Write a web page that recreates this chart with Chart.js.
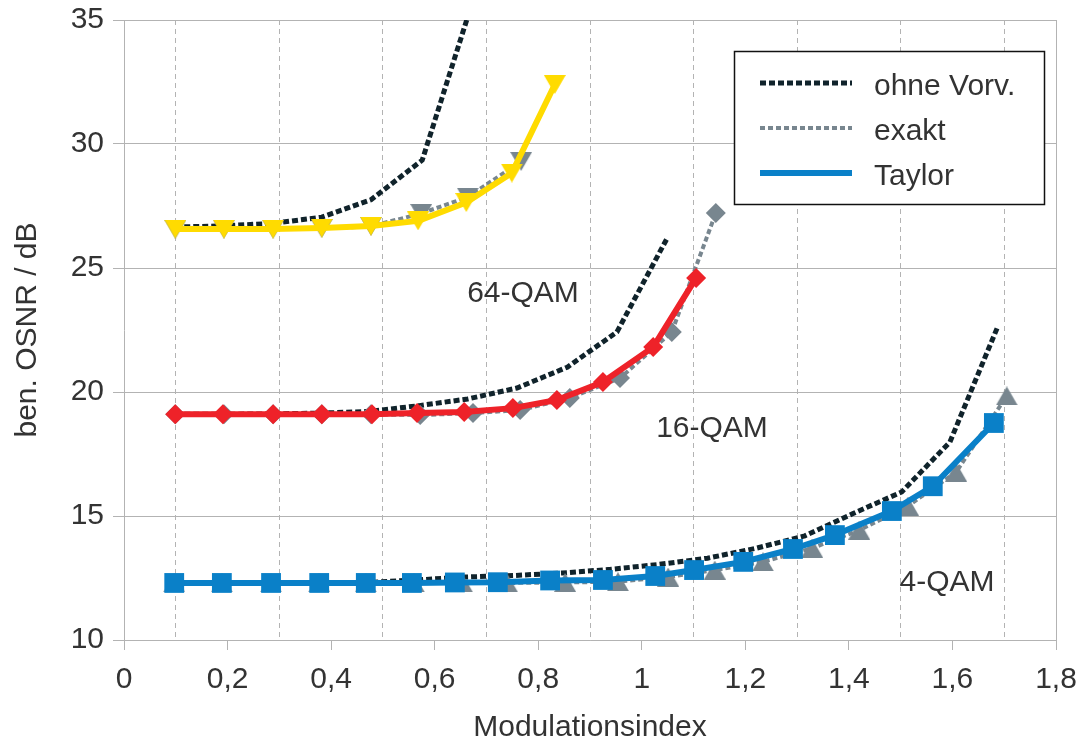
<!DOCTYPE html>
<html>
<head>
<meta charset="utf-8">
<script src="https://cdn.jsdelivr.net/npm/chart.js@4/dist/chart.umd.min.js"></script>
<style>
  html, body { margin: 0; padding: 0; background: #ffffff; }
  #wrap { width: 1080px; height: 743px; }
</style>
</head>
<body>
<div id="wrap"><canvas id="c" width="1080" height="743"></canvas></div>
<script>
// ---------- Axis tick labels ----------
const xTickLabels = ['0', '0,2', '0,4', '0,6', '0,8', '1', '1,2', '1,4', '1,6', '1,8'];
const yTickLabels = ['10', '15', '20', '25', '30', '35'];

// ---------- Series names ----------
const seriesNames = ['ohne Vorv.', 'exakt', 'Taylor'];
const groupNames = ['64-QAM', '16-QAM', '4-QAM'];

// ---------- 4-QAM ----------
const qam4OhneX   = [0.097, 0.190, 0.284, 0.377, 0.471, 0.565, 0.659, 0.752, 0.846, 0.940, 1.034, 1.127, 1.221, 1.315, 1.408, 1.502, 1.595, 1.688];
const qam4OhneY   = [12.3, 12.3, 12.3, 12.3, 12.32, 12.42, 12.54, 12.6, 12.7, 12.85, 13.05, 13.3, 13.7, 14.2, 15.1, 15.97, 17.98, 22.66];
const qam4ExaktX  = [0.097, 0.189, 0.284, 0.377, 0.467, 0.560, 0.653, 0.740, 0.852, 0.954, 1.051, 1.141, 1.234, 1.329, 1.420, 1.514, 1.607, 1.705];
const qam4ExaktY  = [12.3, 12.3, 12.3, 12.3, 12.3, 12.3, 12.3, 12.3, 12.32, 12.35, 12.54, 12.82, 13.15, 13.7, 14.43, 15.4, 16.77, 19.84];
const qam4TaylorX = [0.097, 0.189, 0.284, 0.377, 0.467, 0.556, 0.639, 0.722, 0.823, 0.925, 1.026, 1.101, 1.196, 1.292, 1.373, 1.483, 1.562, 1.680];
const qam4TaylorY = [12.3, 12.3, 12.3, 12.3, 12.3, 12.3, 12.32, 12.33, 12.4, 12.42, 12.58, 12.82, 13.15, 13.67, 14.23, 15.2, 16.2, 18.75];

// ---------- 16-QAM ----------
const qam16OhneX   = [0.099, 0.193, 0.288, 0.382, 0.475, 0.570, 0.664, 0.759, 0.856, 0.952, 1.049];
const qam16OhneY   = [19.1, 19.1, 19.12, 19.15, 19.22, 19.45, 19.72, 20.16, 21.0, 22.42, 26.2];
const qam16ExaktX  = [0.099, 0.193, 0.288, 0.382, 0.477, 0.572, 0.674, 0.765, 0.861, 0.958, 1.058, 1.143];
const qam16ExaktY  = [19.1, 19.1, 19.1, 19.1, 19.1, 19.07, 19.15, 19.27, 19.76, 20.56, 22.42, 27.22];
const qam16TaylorX = [0.099, 0.191, 0.288, 0.382, 0.479, 0.566, 0.657, 0.751, 0.836, 0.925, 1.022, 1.105];
const qam16TaylorY = [19.1, 19.1, 19.1, 19.1, 19.1, 19.15, 19.19, 19.35, 19.68, 20.4, 21.81, 24.6];

// ---------- 64-QAM ----------
const qam64OhneX   = [0.099, 0.193, 0.288, 0.382, 0.477, 0.576, 0.668];
const qam64OhneY   = [26.65, 26.7, 26.8, 27.05, 27.75, 29.35, 35.4];
const qam64ExaktX  = [0.099, 0.193, 0.288, 0.382, 0.477, 0.574, 0.664, 0.767];
const qam64ExaktY  = [26.57, 26.57, 26.57, 26.6, 26.68, 27.2, 27.86, 29.3];
const qam64TaylorX = [0.099, 0.193, 0.288, 0.382, 0.477, 0.568, 0.661, 0.749, 0.832];
const qam64TaylorY = [26.57, 26.57, 26.57, 26.61, 26.69, 26.9, 27.64, 28.83, 32.4];

// ---------- Styles ----------
const FONT = "'Liberation Sans', Arial, sans-serif";
const TEXT = '#333333';
const GRID = '#b3b3b3';
const OHNE = '#10232b';
const GRAY = '#78868f';
const BLUE = '#0a80c8';
const RED = '#ee2229';
const YELLOW = '#ffdb00';

// group label anchors (data coordinates)
const groupLabelPos = [
  { x: 0.7706, y: 23.63 },
  { x: 1.1356, y: 18.19 },
  { x: 1.5894, y: 11.98 }
];

function zip(xs, ys) { return xs.map((x, i) => ({ x: x, y: ys[i] })); }

function triCanvas(color, w, h, down) {
  const c = document.createElement('canvas');
  c.width = w; c.height = h;
  const g = c.getContext('2d');
  g.fillStyle = color;
  g.beginPath();
  if (down) { g.moveTo(0, 0); g.lineTo(w, 0); g.lineTo(w / 2, h); }
  else { g.moveTo(w / 2, 0); g.lineTo(w, h); g.lineTo(0, h); }
  g.closePath();
  g.fill();
  return c;
}

const triUpGray = triCanvas(GRAY, 22, 19, false);
const triDownGray = triCanvas(GRAY, 22, 19, true);
const triDownYellow = triCanvas(YELLOW, 22, 19, true);

function ohneSet(data) {
  return { label: seriesNames[0], data: data, borderColor: OHNE, backgroundColor: OHNE,
    borderWidth: 5, borderDash: [6, 3], pointRadius: 0, tension: 0, clip: 0, order: 3,
    borderJoinStyle: 'miter' };
}
function exaktSet(data, style, radius) {
  return { label: seriesNames[1], data: data, borderColor: GRAY, backgroundColor: GRAY,
    borderWidth: 4, borderDash: [5, 3], pointStyle: style, pointRadius: radius,
    pointBackgroundColor: GRAY, pointBorderWidth: 0, tension: 0, order: 2 };
}
function taylorSet(data, color, style, radius) {
  return { label: seriesNames[2], data: data, borderColor: color, backgroundColor: color,
    borderWidth: 6, pointStyle: style, pointRadius: radius,
    pointBackgroundColor: color, pointBorderWidth: 0, tension: 0, order: 1,
    borderJoinStyle: 'round' };
}

const datasets = [
  taylorSet(zip(qam4TaylorX, qam4TaylorY), BLUE, 'rect', 14),
  taylorSet(zip(qam16TaylorX, qam16TaylorY), RED, 'rectRot', 10),
  taylorSet(zip(qam64TaylorX, qam64TaylorY), YELLOW, triDownYellow, 10),
  exaktSet(zip(qam4ExaktX, qam4ExaktY), triUpGray, 10),
  exaktSet(zip(qam16ExaktX, qam16ExaktY), 'rectRot', 10),
  exaktSet(zip(qam64ExaktX, qam64ExaktY), triDownGray, 10),
  ohneSet(zip(qam4OhneX, qam4OhneY)),
  ohneSet(zip(qam16OhneX, qam16OhneY)),
  ohneSet(zip(qam64OhneX, qam64OhneY))
];

const overlayPlugin = {
  id: 'overlay',
  afterDraw(chart) {
    const ctx = chart.ctx;
    const xs = chart.scales.x, ys = chart.scales.y;
    ctx.save();
    // group labels
    ctx.font = '30px ' + FONT;
    ctx.fillStyle = TEXT;
    ctx.textAlign = 'center';
    ctx.textBaseline = 'alphabetic';
    groupNames.forEach((t, i) => {
      ctx.fillText(t, xs.getPixelForValue(groupLabelPos[i].x), ys.getPixelForValue(groupLabelPos[i].y));
    });
    // legend box
    const bx = 734.5, by = 51.5, bw = 310, bh = 153;
    ctx.fillStyle = '#ffffff';
    ctx.fillRect(bx, by, bw, bh);
    ctx.strokeStyle = '#111111';
    ctx.lineWidth = 1.5;
    ctx.strokeRect(bx, by, bw, bh);
    const rows = [
      { y: 83, color: OHNE, width: 5, dash: [6, 3] },
      { y: 128, color: GRAY, width: 4, dash: [5, 3] },
      { y: 173, color: BLUE, width: 6, dash: [] }
    ];
    rows.forEach((r, i) => {
      ctx.beginPath();
      ctx.setLineDash(r.dash);
      ctx.strokeStyle = r.color;
      ctx.lineWidth = r.width;
      ctx.moveTo(760, r.y);
      ctx.lineTo(852, r.y);
      ctx.stroke();
      ctx.setLineDash([]);
      ctx.fillStyle = TEXT;
      ctx.textAlign = 'left';
      ctx.textBaseline = 'alphabetic';
      ctx.fillText(seriesNames[i], 874, r.y + 12);
    });
    ctx.restore();
  }
};

new Chart(document.getElementById('c'), {
  type: 'line',
  data: { datasets: datasets },
  options: {
    responsive: false,
    animation: false,
    devicePixelRatio: 1,
    events: [],
    layout: { padding: { left: 0, right: 24, top: 20, bottom: 0 } },
    plugins: { legend: { display: false }, tooltip: { enabled: false } },
    scales: {
      x: {
        type: 'linear',
        min: 0, max: 1.8,
        afterFit(s) { s.height = 103; s.paddingLeft = 0; s.paddingRight = 0; },
        afterBuildTicks(s) {
          const t = [];
          for (let i = 0; i <= 18; i++) t.push({ value: i / 10 });
          s.ticks = t;
        },
        ticks: {
          autoSkip: false, maxRotation: 0, minRotation: 0, padding: 12,
          color: TEXT, font: { family: FONT, size: 30 },
          callback: (v, i) => (i % 2 === 0 ? xTickLabels[i / 2] : '')
        },
        grid: {
          lineWidth: 1,
          tickLength: 10,
          color: (c) => {
            if (c.index === undefined) return GRID;
            if (c.index % 2 === 1) return GRID;
            if (c.index === 18) return GRID;
            return 'rgba(0,0,0,0)';
          },
          tickColor: (c) => (c.index !== undefined && c.index % 2 === 0 ? GRID : 'rgba(0,0,0,0)')
        },
        border: {
          color: GRID, width: 1,
          dash: (c) => (c.index !== undefined && c.index % 2 === 1 ? [5, 4] : [])
        },
        title: {
          display: true, text: 'Modulationsindex', color: TEXT,
          font: { family: FONT, size: 30, lineHeight: 1 }, padding: { top: 0, bottom: 0 }
        }
      },
      y: {
        type: 'linear',
        min: 10, max: 35,
        afterFit(s) { s.width = 124; s.paddingTop = 0; s.paddingBottom = 0; },
        ticks: {
          stepSize: 5, padding: 9, color: TEXT, font: { family: FONT, size: 30 },
          callback: (v, i) => yTickLabels[i]
        },
        grid: { color: GRID, lineWidth: 1, tickLength: 11, tickColor: GRID },
        border: { color: GRID, width: 1 },
        title: {
          display: true, text: 'ben. OSNR / dB', color: TEXT,
          font: { family: FONT, size: 30 }, padding: { top: 10, bottom: 0 }
        }
      }
    }
  },
  plugins: [overlayPlugin]
});
</script>
</body>
</html>
